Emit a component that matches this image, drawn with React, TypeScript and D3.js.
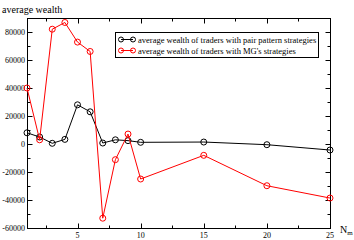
import React, { useEffect, useRef } from 'react';
import * as d3 from 'd3';

const nm = [1, 2, 3, 4, 5, 6, 7, 8, 9, 10, 15, 20, 25];
const pairWealth = [8000, 5000, 500, 3300, 28000, 23000, 700, 3000, 2400, 1200, 1400, -500, -4300];
const mgWealth = [40000, 3000, 82000, 86800, 72800, 66100, -53000, -11200, 7100, -25000, -8100, -29800, -38600];
const xMajor = [5, 10, 15, 20, 25];
const yMajor = [-60000, -40000, -20000, 0, 20000, 40000, 60000, 80000];
const seriesNames = [
  'average wealth of traders with pair pattern strategies',
  "average wealth of traders with MG's strategies",
];
const seriesColors = ['#000000', '#ff0000'];

const App = () => {
  const svgRef = useRef<SVGSVGElement>(null);

  useEffect(() => {
    const width = 354;
    const height = 240;
    const left = 27;
    const right = 330;
    const top = 18;
    const bottom = 228;

    const svg = d3.select(svgRef.current);
    svg.selectAll('*').remove();

    const x = d3.scaleLinear().domain([1, 25]).range([left, right]);
    const y = d3.scaleLinear().domain([-60000, 90000]).range([bottom, top]);
    const font = '"Liberation Serif", "Times New Roman", serif';

    // frame
    svg.append('rect')
      .attr('x', left + 0.5).attr('y', top + 0.5)
      .attr('width', right - left).attr('height', bottom - top)
      .attr('fill', 'none').attr('stroke', '#000').attr('stroke-width', 1);

    // ticks pointing inward on all four sides
    const xMinor = d3.range(2.5, 25, 2.5).filter(v => !xMajor.includes(v));
    const yMinor = d3.range(-50000, 90000, 20000);
    const tickG = svg.append('g').attr('stroke', '#000').attr('stroke-width', 1);
    const xt = [...xMajor.map(v => ({ v, len: 5 })), ...xMinor.map(v => ({ v, len: 3 }))];
    const yt = [...yMajor.map(v => ({ v, len: 5 })), ...yMinor.map(v => ({ v, len: 3 }))];
    xt.forEach(t => {
      const px = Math.round(x(t.v)) + 0.5;
      tickG.append('line').attr('x1', px).attr('x2', px).attr('y1', bottom + 0.5).attr('y2', bottom + 0.5 - t.len);
      tickG.append('line').attr('x1', px).attr('x2', px).attr('y1', top + 0.5).attr('y2', top + 0.5 + t.len);
    });
    yt.forEach(t => {
      const py = Math.round(y(t.v)) + 0.5;
      tickG.append('line').attr('x1', left + 0.5).attr('x2', left + 0.5 + t.len).attr('y1', py).attr('y2', py);
      tickG.append('line').attr('x1', right + 0.5).attr('x2', right + 0.5 - t.len).attr('y1', py).attr('y2', py);
    });

    // tick labels
    svg.append('g').selectAll('text').data(xMajor).join('text')
      .attr('x', d => x(d)).attr('y', bottom + 10)
      .attr('text-anchor', 'middle')
      .style('font-family', font).style('font-size', '8px')
      .text(d => d);
    svg.append('g').selectAll('text').data(yMajor).join('text')
      .attr('x', left - 2).attr('y', d => y(d) + 3)
      .attr('text-anchor', 'end')
      .style('font-family', font).style('font-size', '8px')
      .text(d => d);

    // axis titles
    svg.append('text').attr('x', 2).attr('y', 13)
      .style('font-family', font).style('font-size', '10px')
      .text('average wealth');
    const nText = svg.append('text').attr('x', 340).attr('y', 233)
      .style('font-family', font).style('font-size', '10px');
    nText.append('tspan').text('N');
    nText.append('tspan').attr('dy', 2).style('font-size', '7px').text('m');

    // series
    const line = d3.line<number>().x((_, i) => x(nm[i])).y(d => y(d));
    [pairWealth, mgWealth].forEach((vals, k) => {
      const g = svg.append('g');
      g.append('path').attr('d', line(vals)).attr('fill', 'none')
        .attr('stroke', seriesColors[k]).attr('stroke-width', 1);
      g.selectAll('circle').data(vals).join('circle')
        .attr('cx', (_, i) => x(nm[i])).attr('cy', d => y(d)).attr('r', 3)
        .attr('fill', 'none').attr('stroke', seriesColors[k]).attr('stroke-width', 1);
    });

    // legend
    const lg = svg.append('g');
    lg.append('rect').attr('x', 115.5).attr('y', 32.5).attr('width', 203).attr('height', 25)
      .attr('fill', '#fff').attr('stroke', '#000').attr('stroke-width', 1);
    seriesNames.forEach((name, k) => {
      const ly = 39.5 + k * 11;
      lg.append('line').attr('x1', 121).attr('x2', 133).attr('y1', ly).attr('y2', ly)
        .attr('stroke', seriesColors[k]);
      [121, 133].forEach(cx => lg.append('circle').attr('cx', cx).attr('cy', ly).attr('r', 2.5)
        .attr('fill', 'none').attr('stroke', seriesColors[k]));
      lg.append('text').attr('x', 138).attr('y', ly + 3)
        .style('font-family', font).style('font-size', '8.5px')
        .text(name);
    });

    svg.attr('width', width).attr('height', height);
  }, []);

  return (
    <svg ref={svgRef} width={354} height={240}
      style={{ position: 'absolute', left: 0, top: 0, background: '#fff' }} />
  );
};

export default App;
